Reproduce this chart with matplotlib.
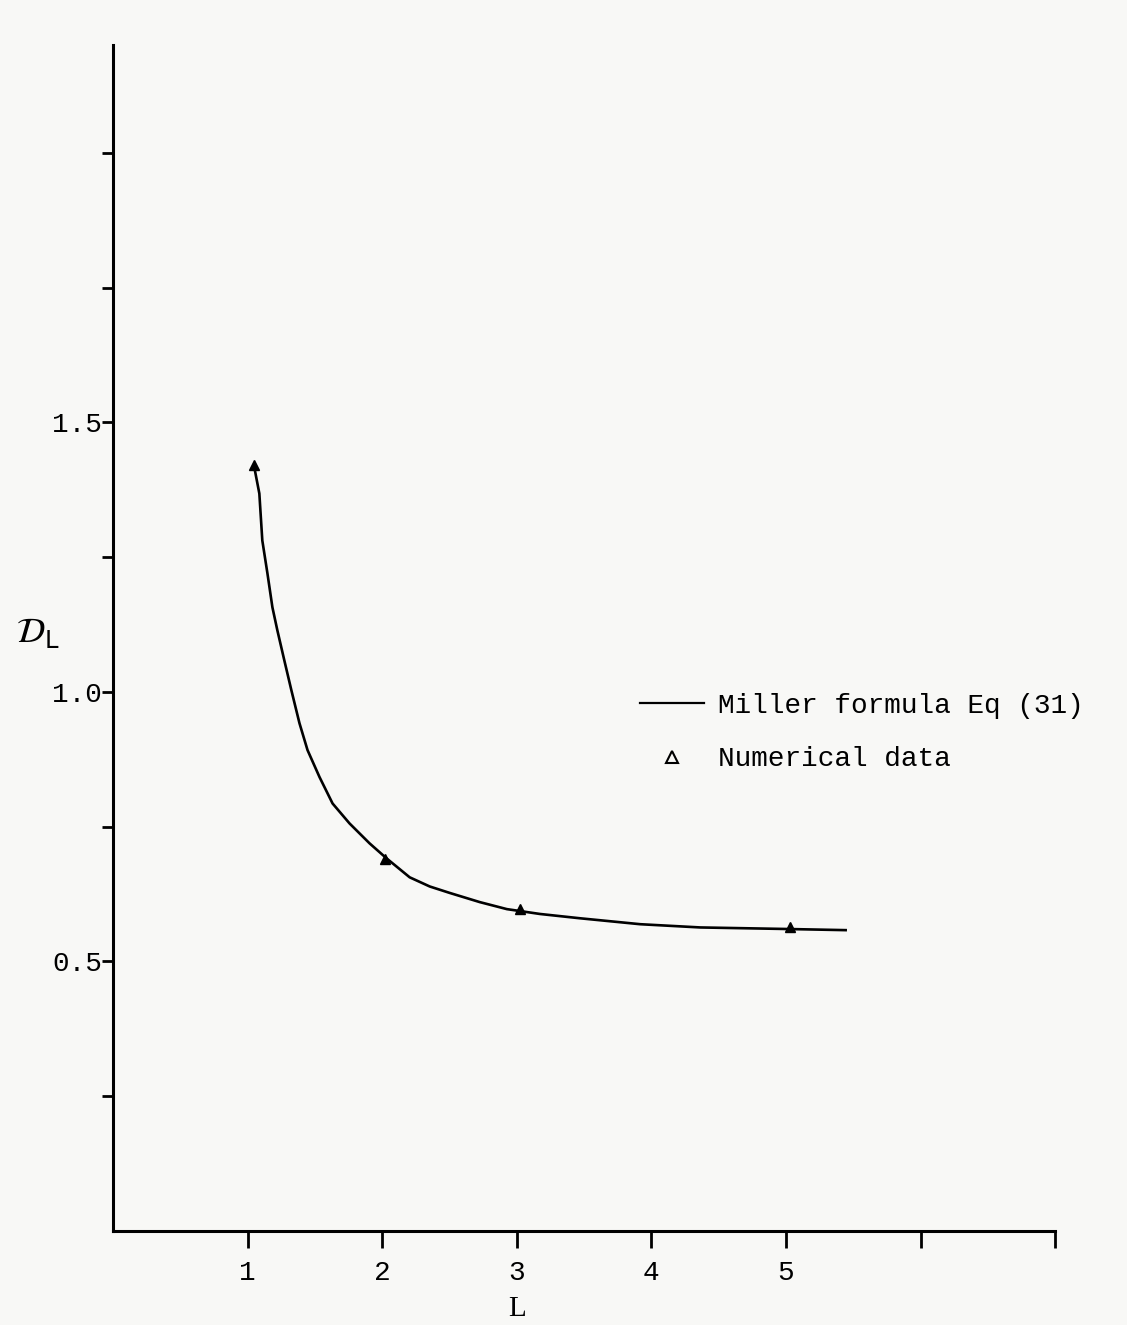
import numpy as np
import matplotlib.pyplot as plt
from matplotlib.lines import Line2D

# Miller formula curve
curve_L = [1.050, 1.087, 1.109, 1.147, 1.184, 1.221, 1.273, 1.325, 1.385, 1.445,
           1.534, 1.631, 1.757, 1.906, 2.033, 2.204, 2.353, 2.502, 2.725, 2.926,
           3.172, 3.470, 3.917, 4.363, 5.033, 5.443]
curve_D = [1.416, 1.368, 1.281, 1.220, 1.157, 1.114, 1.058, 1.003, 0.942, 0.892,
           0.842, 0.793, 0.756, 0.719, 0.691, 0.656, 0.639, 0.627, 0.610, 0.597,
           0.588, 0.580, 0.569, 0.563, 0.560, 0.558]

# numerical data points
num_L = [1.05, 2.02, 3.02, 5.03]
num_D = [1.420, 0.690, 0.598, 0.563]

x_ticks = [1, 2, 3, 4, 5, 6, 7]
x_labels = ['1', '2', '3', '4', '5', '', '']
y_ticks = [0.25, 0.5, 0.75, 1.0, 1.25, 1.5, 1.75, 2.0]
y_labels = ['', '0.5', '', '1.0', '', '1.5', '', '']

mono = 'Liberation Mono'
paper = '#f8f8f6'

fig = plt.figure(figsize=(11.27, 13.25), dpi=100, facecolor=paper)
ax = fig.add_axes([0.1003, 0.071, 0.836, 0.895], facecolor=paper)

ax.plot(curve_L, curve_D, color='black', linewidth=1.9, solid_joinstyle='round')
ax.plot(num_L, num_D, linestyle='none', marker='^', markersize=7,
        color='black')

ax.set_xlim(0, 7)
ax.set_ylim(0, 2.2)
for s in ['top', 'right']:
    ax.spines[s].set_visible(False)
for s in ['left', 'bottom']:
    ax.spines[s].set_linewidth(2.2)

ax.set_xticks(x_ticks)
ax.set_xticklabels(x_labels, fontfamily=mono, fontsize=20)
ax.set_yticks(y_ticks)
ax.set_yticklabels(y_labels, fontfamily=mono, fontsize=20)
ax.tick_params(axis='x', direction='out', length=12, width=2, pad=9)
ax.tick_params(axis='y', direction='out', length=8, width=2, pad=0)

ax.set_xlabel('L', fontfamily='Liberation Serif', fontsize=21)
ax.xaxis.set_label_coords(0.429, -0.055)
ax.set_ylabel(r'$\mathcal{D}_{\mathrm{L}}$', rotation=0, fontsize=25)
ax.yaxis.set_label_coords(-0.08, 0.49)

handles = [
    Line2D([], [], color='black', linewidth=1.6),
    Line2D([], [], linestyle='none', marker='^', markersize=8,
           markerfacecolor='none', markeredgecolor='black', markeredgewidth=1.5),
]
ax.legend(handles, ['Miller formula Eq (31)', 'Numerical data'],
          loc='upper left', bbox_to_anchor=(0.533, 0.475), frameon=False,
          prop={'family': mono, 'size': 20}, handlelength=2.3,
          handletextpad=0.5, labelspacing=1.0)

plt.savefig('out.png', dpi=100, facecolor=paper)
